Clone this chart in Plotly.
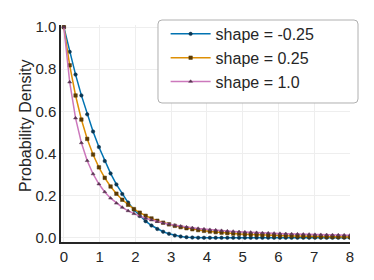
import plotly.graph_objects as go

x_vals = [0.0, 0.163, 0.327, 0.490, 0.653, 0.816, 0.980, 1.143, 1.306, 1.469,
          1.633, 1.796, 1.959, 2.122, 2.286, 2.449, 2.612, 2.776, 2.939, 3.102,
          3.265, 3.429, 3.592, 3.755, 3.918, 4.082, 4.245, 4.408, 4.571, 4.735,
          4.898, 5.061, 5.224, 5.388, 5.551, 5.714, 5.878, 6.041, 6.204, 6.367,
          6.531, 6.694, 6.857, 7.020, 7.184, 7.347, 7.510, 7.673, 7.837, 8.0]

shape_neg025 = [1.0, 0.8825, 0.7746, 0.6759, 0.5858, 0.5042, 0.4305, 0.3644, 0.3055, 0.2533,
                0.2073, 0.1673, 0.1328, 0.1034, 0.0787, 0.0583, 0.0418, 0.0287, 0.0187, 0.0113,
                0.0062, 0.0029, 0.0011, 0.0002, 0.0000, 0.0, 0.0, 0.0, 0.0, 0.0,
                0.0, 0.0, 0.0, 0.0, 0.0, 0.0, 0.0, 0.0, 0.0, 0.0,
                0.0, 0.0, 0.0, 0.0, 0.0, 0.0, 0.0, 0.0, 0.0, 0.0]

shape_025 = [1.0, 0.8187, 0.6755, 0.5612, 0.4694, 0.3951, 0.3344, 0.2846, 0.2434, 0.2092,
             0.1806, 0.1566, 0.1363, 0.1191, 0.1044, 0.0918, 0.0810, 0.0717, 0.0637, 0.0567,
             0.0506, 0.0453, 0.0406, 0.0365, 0.0329, 0.0297, 0.0269, 0.0244, 0.0221, 0.0201,
             0.0184, 0.0168, 0.0153, 0.0140, 0.0129, 0.0118, 0.0109, 0.0100, 0.0093, 0.0086,
             0.0079, 0.0073, 0.0068, 0.0063, 0.0059, 0.0054, 0.0051, 0.0047, 0.0044, 0.0041]

shape_10 = [1.0, 0.7390, 0.5683, 0.4506, 0.3660, 0.3031, 0.2552, 0.2178, 0.1880, 0.1640,
            0.1443, 0.1279, 0.1142, 0.1026, 0.0926, 0.0841, 0.0766, 0.0702, 0.0645, 0.0594,
            0.0550, 0.0510, 0.0474, 0.0442, 0.0413, 0.0387, 0.0364, 0.0342, 0.0322, 0.0304,
            0.0287, 0.0272, 0.0258, 0.0245, 0.0233, 0.0222, 0.0211, 0.0202, 0.0193, 0.0184,
            0.0176, 0.0169, 0.0162, 0.0155, 0.0149, 0.0144, 0.0138, 0.0133, 0.0128, 0.0123]

series_names = ["shape = -0.25", "shape = 0.25", "shape = 1.0"]
series_vals = [shape_neg025, shape_025, shape_10]
colors = ["#0173b2", "#de8f05", "#cc78bc"]
symbols = ["circle", "square", "triangle-up"]
edge = ["#0b3550", "#5a3b05", "#5a3552"]

fig = go.Figure()
for name, ys, c, s, e in zip(series_names, series_vals, colors, symbols, edge):
    fig.add_trace(go.Scatter(
        x=x_vals, y=ys, name=name, mode="lines+markers",
        line=dict(color=c, width=1.5),
        marker=dict(symbol=s, size=3.5, color=e, line=dict(color=e, width=0.5)),
    ))

# legend frame (rounded rectangle in paper coordinates)
bx0, bx1, by0, by1 = 0.3356, 1.0277, 0.6406, 1.023
rx, ry = 0.0138, 0.0184
frame_path = (
    f"M {bx0+rx},{by0} L {bx1-rx},{by0} Q {bx1},{by0} {bx1},{by0+ry} "
    f"L {bx1},{by1-ry} Q {bx1},{by1} {bx1-rx},{by1} "
    f"L {bx0+rx},{by1} Q {bx0},{by1} {bx0},{by1-ry} "
    f"L {bx0},{by0+ry} Q {bx0},{by0} {bx0+rx},{by0} Z"
)
fig.add_shape(type="path", path=frame_path, xref="paper", yref="paper",
              fillcolor="white", line=dict(color="#b0b0b0", width=1), layer="above")

font = "Liberation Sans, Arial, sans-serif"
fig.add_annotation(text="Probability Density", textangle=-90, showarrow=False,
                   xref="paper", yref="paper", x=-0.121, y=0.535,
                   xanchor="center", yanchor="middle",
                   font=dict(family=font, size=16, color="#262626"))

fig.update_layout(
    width=374, height=280,
    margin=dict(l=61, r=24, t=25, b=38),
    paper_bgcolor="white", plot_bgcolor="white",
    font=dict(family=font, size=15, color="#262626"),
    showlegend=True,
    legend=dict(
        x=0.362, y=1.037, xanchor="left", yanchor="top",
        bgcolor="rgba(0,0,0,0)", borderwidth=0,
        font=dict(size=16, color="#262626"),
        itemwidth=40, tracegroupgap=0,
    ),
    xaxis=dict(
        range=[-0.08, 8], tickvals=[0, 1, 2, 3, 4, 5, 6, 7, 8],
        showgrid=True, gridcolor="#eeeeee", gridwidth=1,
        showline=True, linecolor="#262626", linewidth=1.5, zeroline=False,
        ticks="", tickfont=dict(size=15),
    ),
    yaxis=dict(
        range=[-0.02, 1.01], tickvals=[0, 0.2, 0.4, 0.6, 0.8, 1.0], tickformat=".1f",
        showgrid=True, gridcolor="#eeeeee", gridwidth=1,
        showline=True, linecolor="#262626", linewidth=1.5, zeroline=False,
        ticks="", tickfont=dict(size=15),
    ),
)

fig.write_html("out.html", config={"displayModeBar": False},
               post_script="document.body.style.margin='0';")
